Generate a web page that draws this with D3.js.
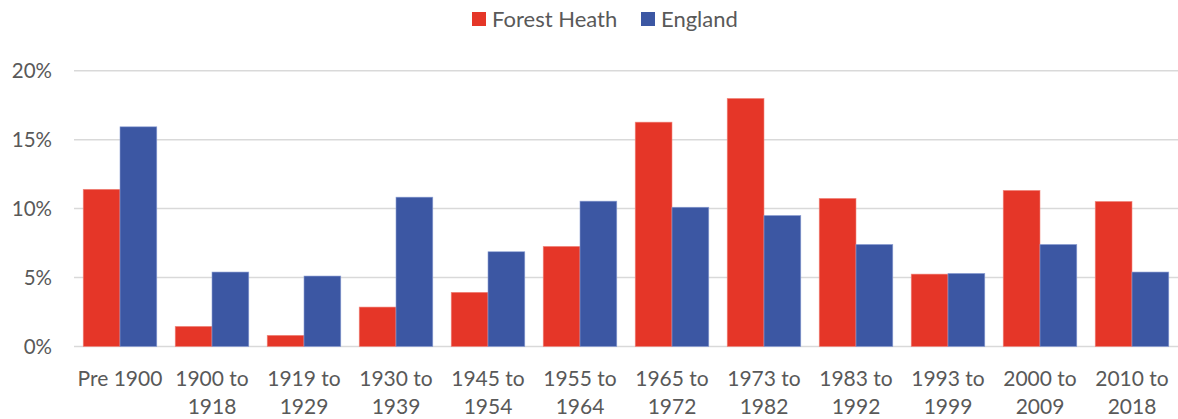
<!DOCTYPE html>
<html>
<head>
<meta charset="utf-8">
<script src="https://cdnjs.cloudflare.com/ajax/libs/d3/7.8.5/d3.min.js"></script>
<style>
  body { margin: 0; background: #fff; }
  svg text { font-family: Lato, "Open Sans", sans-serif; fill: #595959; }
</style>
</head>
<body>
<svg id="chart" width="1178" height="419"></svg>
<script>
// age bands of dwellings
var categories = [
  ["Pre 1900"], ["1900 to", "1918"], ["1919 to", "1929"], ["1930 to", "1939"],
  ["1945 to", "1954"], ["1955 to", "1964"], ["1965 to", "1972"], ["1973 to", "1982"],
  ["1983 to", "1992"], ["1993 to", "1999"], ["2000 to", "2009"], ["2010 to", "2018"]
];
var seriesNames = ["Forest Heath", "England"];
var forestHeath = [11.4, 1.46, 0.81, 2.86, 3.93, 7.26, 16.27, 17.99, 10.74, 5.25, 11.32, 10.52];
var england = [15.93, 5.4, 5.11, 10.83, 6.87, 10.54, 10.1, 9.5, 7.4, 5.3, 7.4, 5.4];
var yTicks = [0, 5, 10, 15, 20];
var colors = ["#e53628", "#3c57a3"];

var svg = d3.select("#chart");
var labels = categories.map(function(c) { return c.join(" "); });

var x = d3.scaleBand().domain(labels).range([74, 1178]).paddingInner(0.2).paddingOuter(0.1);
var xs = d3.scaleBand().domain(seriesNames).range([0, x.bandwidth()]);
var y = d3.scaleLinear().domain([0, 20]).range([346.5, 70.7]);

// gridlines
svg.append("g").selectAll("line").data(yTicks).enter().append("line")
  .attr("x1", 74).attr("x2", 1178)
  .attr("y1", function(d) { return y(d); }).attr("y2", function(d) { return y(d); })
  .attr("stroke", "#d9d9d9").attr("stroke-width", 1.5);

// y labels
svg.append("g").selectAll("text").data(yTicks).enter().append("text")
  .attr("x", 52).attr("y", function(d) { return y(d); })
  .attr("dy", "0.36em").attr("text-anchor", "end")
  .style("font-size", "20.5px")
  .text(function(d) { return d + "%"; });

// bars
var series = [forestHeath, england];
series.forEach(function(vals, si) {
  svg.append("g").selectAll("rect").data(vals).enter().append("rect")
    .attr("x", function(d, i) { return x(labels[i]) + xs(seriesNames[si]); })
    .attr("width", xs.bandwidth())
    .attr("y", function(d) { return y(d); })
    .attr("height", function(d) { return y(0) - y(d); })
    .attr("fill", colors[si])
    .attr("stroke", si === 0 ? "#f08a80" : "#8d9fd4")
    .attr("stroke-width", 0.6);
});

// x labels
var xl = svg.append("g").selectAll("text").data(categories).enter().append("text")
  .attr("x", function(d, i) { return x(labels[i]) + x.bandwidth() / 2; })
  .attr("y", 386)
  .attr("text-anchor", "middle")
  .style("font-size", "21px");
xl.selectAll("tspan").data(function(d) { return d; }).enter().append("tspan")
  .attr("x", function() { return d3.select(this.parentNode).attr("x"); })
  .attr("dy", function(d, i) { return i === 0 ? 0 : 28; })
  .text(function(d) { return d; });

// legend
var legendX = [472, 641];
seriesNames.forEach(function(name, i) {
  var g = svg.append("g").attr("transform", "translate(" + legendX[i] + ",12)");
  g.append("rect").attr("width", 14).attr("height", 14).attr("fill", colors[i]);
  g.append("text").attr("x", 20).attr("y", 7).attr("dy", "0.36em")
    .style("font-size", "22px").text(name);
});
</script>
</body>
</html>
